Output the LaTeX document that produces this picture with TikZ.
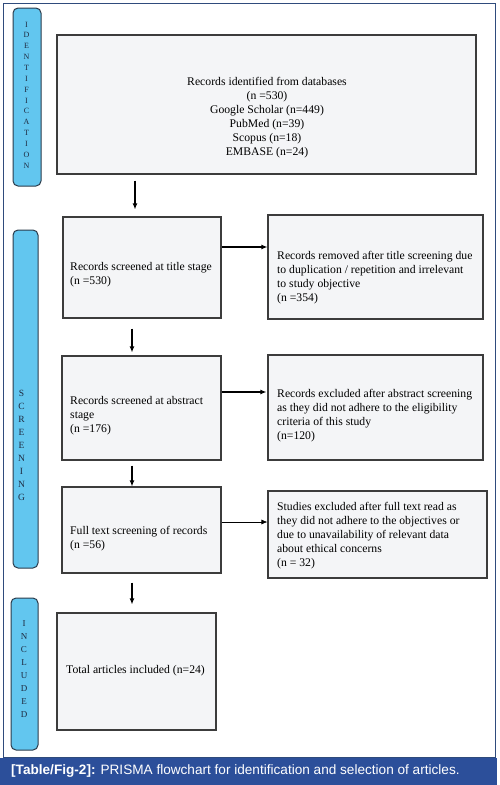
\documentclass[tikz,border=0pt]{standalone}
\usepackage{fontspec}
\setmainfont{Liberation Serif}
\newfontfamily\capfont{Liberation Sans}
\usetikzlibrary{arrows.meta}
\definecolor{framec}{HTML}{2F4B7C}
\definecolor{capbar}{HTML}{2C4F9A}
\definecolor{sidefill}{HTML}{62C6EF}
\definecolor{sidedraw}{HTML}{2B3B4B}
\definecolor{sidetext}{HTML}{1E2A40}
\definecolor{boxfill}{HTML}{F4F5F7}
\definecolor{boxdraw}{HTML}{3C3C3C}
\tikzset{
  sidebar/.style={draw=sidedraw, fill=sidefill, line width=1pt, rounded corners=5pt},
  sideletters/.style={inner sep=0pt, align=center, text=sidetext},
  boxshape/.style={draw=boxdraw, fill=boxfill, line width=1.1pt, inner sep=0pt},
  boxtext/.style={inner sep=0pt, align=left, anchor=west, font=\fontsize{11.7}{14}\selectfont},
  arr/.style={line width=1.3pt, -{Latex[length=6pt,width=5pt]}},
  thinarr/.style={line width=0.7pt, -{Latex[length=6pt,width=5pt]}},
}
\begin{document}
\begin{tikzpicture}[x=1pt,y=-1pt]
\useasboundingbox (0,0) rectangle (499,785);
% frame and caption
\draw[framec, line width=1.5pt] (3.5,3.5) rectangle (495.5,758);
\fill[capbar] (0,758) rectangle (497,785);
\node[anchor=west, inner sep=0pt, text=white, font=\capfont\fontsize{13.6}{16}\selectfont] (cap) at (11,771.5) {\textbf{[Table/Fig-2]:} PRISMA flowchart for identification and selection of articles.};
% sidebars
\draw[sidebar] (13,8) rectangle (41,186);
\draw[sidebar] (13,230) rectangle (38,568);
\draw[sidebar] (11,598) rectangle (38,750);
\node[sideletters, font=\fontsize{8}{10.85}\selectfont] (lid) at (26.5,95) {I\\D\\E\\N\\T\\I\\F\\I\\C\\A\\T\\I\\O\\N};
\node[sideletters, font=\fontsize{9.5}{13}\selectfont] (lscr) at (21.5,445.5) {S\\C\\R\\E\\E\\N\\I\\N\\G};
\node[sideletters, font=\fontsize{9}{13}\selectfont] (linc) at (24,669) {I\\N\\C\\L\\U\\D\\E\\D};
% boxes
\node[boxshape, minimum width=419pt, minimum height=139pt] (id) at (266.5,104.5) {};
\node[boxshape, minimum width=158pt, minimum height=101pt] (t1) at (142,267.5) {};
\node[boxshape, minimum width=215pt, minimum height=104pt] (r1) at (375.5,267) {};
\node[boxshape, minimum width=159pt, minimum height=104pt] (a1) at (141.5,408) {};
\node[boxshape, minimum width=215pt, minimum height=105pt] (r2) at (375.5,407.5) {};
\node[boxshape, minimum width=159pt, minimum height=86pt] (f1) at (141.5,530) {};
\node[boxshape, minimum width=219pt, minimum height=87pt] (r3) at (377.5,534.5) {};
\node[boxshape, minimum width=159pt, minimum height=117pt] (tot) at (136.5,671.5) {};
% texts
\node[inner sep=0pt, align=center, font=\fontsize{11.7}{14}\selectfont] (idt) at (267,118) {Records identified from databases\\(n =530)\\Google Scholar (n=449)\\PubMed (n=39)\\Scopus (n=18)\\EMBASE (n=24)};
\node[boxtext] (t1t) at (70,275) {Records screened at title stage\\(n =530)};
\node[boxtext] (r1t) at (277,278) {Records removed after title screening due\\to duplication / repetition and irrelevant\\to study objective\\(n =354)};
\node[boxtext] (a1t) at (70,416) {Records screened at abstract\\stage\\(n =176)};
\node[boxtext] (r2t) at (277,415.5) {Records excluded after abstract screening\\as they did not adhere to the eligibility\\criteria of this study\\(n=120)};
\node[boxtext] (f1t) at (70,538.5) {Full text screening of records\\(n =56)};
\node[boxtext] (r3t) at (277,535.5) {Studies excluded after full text read as\\they did not adhere to the objectives or\\due to unavailability of relevant data\\about ethical concerns\\(n = 32)};
\node[boxtext] (tott) at (66,671) {Total articles included (n=24)};
% arrows
\draw[arr] (id.south -| 135,0) ++(0,6) -- ([yshift=7pt]t1.north -| 135,0);
\draw[arr] (t1.east |- 0,247) -- (r1.west |- 0,247);
\draw[arr] (t1.south -| 132,0) ++(0,10) -- ([yshift=3pt]a1.north -| 132,0);
\draw[arr] (a1.east |- 0,392) -- ([xshift=-1pt]r2.west |- 0,392);
\draw[arr] (a1.south -| 132,0) ++(0,5) -- (f1.north -| 132,0);
\draw[thinarr] (f1.east |- 0,522) -- (r3.west |- 0,522);
\draw[arr] (f1.south -| 132,0) ++(0,9) -- ([yshift=8pt]tot.north -| 132,0);
\end{tikzpicture}
\end{document}
